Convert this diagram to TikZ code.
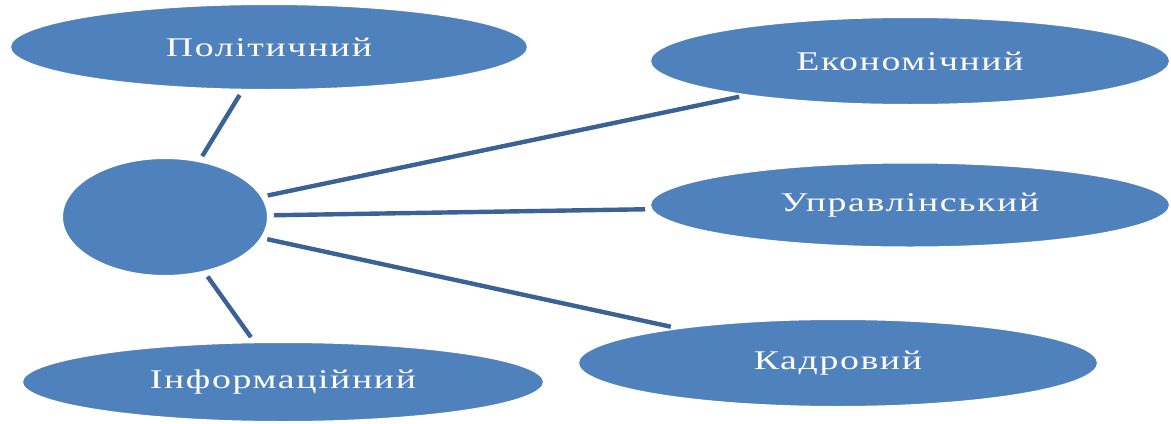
\documentclass[tikz,border=0pt]{standalone}
\usepackage{fontspec}
\setmainfont{Liberation Serif}[LetterSpace=6,FakeStretch=1.4]
\usepackage{tikz}
\usetikzlibrary{shapes.geometric,positioning}
\definecolor{accent}{RGB}{79,129,189}
\definecolor{spoke}{RGB}{59,98,148}
\tikzset{item/.style={ellipse,fill=accent,draw=white,line width=1pt,inner sep=0pt,
    minimum width=260pt,minimum height=43pt,text=white,font=\fontsize{13.5}{16}\selectfont}}
\tikzset{link/.style={spoke,line width=2.2pt,shorten <=2.5pt,shorten >=2.5pt}}

\begin{document}
\begin{tikzpicture}[x=0.5pt,y=-0.5pt]
      \useasboundingbox (0,0) rectangle (1171,423);
      \node[item,minimum width=103pt,minimum height=59pt](hub) at (165,217){};

      \node[item,minimum width=259pt](pol) at (269,47){Політичний};
      \node[item,minimum height=44pt](econ) at (910,61){Економічний};
      \node[item,minimum height=42.5pt](mgmt) at (910,205){Управлінський};
      \node[item,minimum height=44pt](staff) at (838,363){Кадровий};
      \node[item,minimum width=261pt,minimum height=40pt](info) at (283,382){Інформаційний};

      \draw[link] (hub) edge (pol) edge (econ) edge (mgmt) edge (staff) edge (info);
    \end{tikzpicture}
\end{document}
